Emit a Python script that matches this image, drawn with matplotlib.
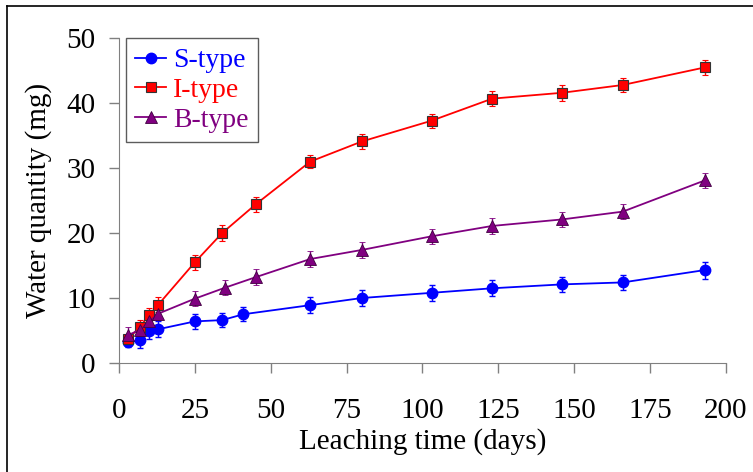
import matplotlib.pyplot as plt
from matplotlib.lines import Line2D

plt.rcParams['font.family'] = ['Liberation Serif', 'DejaVu Serif']

# leaching time (days) and water quantity (mg)
s_days = [3, 7, 10, 13, 25, 34, 41, 63, 80, 103, 123, 146, 166, 193]
s_water = [3.2, 3.5, 4.9, 5.2, 6.4, 6.6, 7.5, 8.9, 10.0, 10.8, 11.5, 12.1, 12.4, 14.3]
s_err = [0.8, 1.2, 1.2, 1.2, 1.2, 1.1, 1.1, 1.2, 1.2, 1.2, 1.2, 1.2, 1.2, 1.3]

i_days = [3, 7, 10, 13, 25, 34, 45, 63, 80, 103, 123, 146, 166, 193]
i_water = [3.7, 5.6, 7.4, 9.0, 15.5, 20.0, 24.4, 31.0, 34.1, 37.3, 40.7, 41.6, 42.8, 45.5]
i_err = [0.6, 1.0, 1.0, 1.1, 1.2, 1.2, 1.2, 1.0, 1.1, 1.1, 1.1, 1.2, 1.1, 1.1]

b_days = [3, 7, 10, 13, 25, 35, 45, 63, 80, 103, 123, 146, 166, 193]
b_water = [4.3, 5.1, 6.4, 7.6, 9.9, 11.6, 13.2, 16.0, 17.4, 19.5, 21.1, 22.1, 23.3, 28.1]
b_err = [1.3, 1.1, 1.0, 1.0, 1.2, 1.2, 1.2, 1.2, 1.2, 1.2, 1.2, 1.2, 1.2, 1.2]

colors = ['#0000ff', '#ff0000', '#800080']

fig = plt.figure(figsize=(7.53, 4.72), dpi=100)
ax = fig.add_axes([0.158, 0.231, 0.806, 0.688])

h1 = ax.errorbar(s_days, s_water, yerr=s_err, color=colors[0], marker='o', ms=7.5,
                 mec='#0000ff', mfc='#0000ff', lw=1.3, capsize=2.5, elinewidth=1.0,
                 zorder=3)
h2 = ax.errorbar(i_days, i_water, yerr=i_err, color=colors[1], marker='s', ms=7.5,
                 mec='#333333', mfc='#ff0000', mew=0.8, lw=1.3, capsize=2.5,
                 elinewidth=1.0, zorder=3)
h3 = ax.errorbar(b_days, b_water, yerr=b_err, color=colors[2], marker='^', ms=8.5,
                 mec='#400040', mfc='#800080', mew=0.6, lw=1.3, capsize=2.5,
                 elinewidth=1.0, zorder=3)

ax.set_xlim(0, 200)
ax.set_ylim(0, 50)
ax.set_xticks(range(0, 201, 25))
ax.set_yticks(range(0, 51, 10))
ax.spines['top'].set_visible(False)
ax.spines['right'].set_visible(False)
for sp in ['left', 'bottom']:
    ax.spines[sp].set_color('#808080')
ax.tick_params(axis='both', direction='out', length=7, width=1.0,
               color='#808080', labelsize=21)
ax.tick_params(axis='x', pad=18)
ax.tick_params(axis='y', pad=10)

ax.set_xlabel('Leaching time (days)', fontsize=21, labelpad=3)
ax.set_ylabel('Water quantity (mg)', fontsize=21, labelpad=10)

leg = ax.legend([h1[0], h2[0], h3[0]], ['S-type', 'I-type', 'B-type'],
                loc='upper left', bbox_to_anchor=(0.011, 1.0), fontsize=20,
                frameon=True, fancybox=False, edgecolor='#333333',
                borderaxespad=0.0, handlelength=1.1, labelspacing=0.15,
                handletextpad=0.25, borderpad=0.35)
leg.get_frame().set_linewidth(1.0)
for txt, c in zip(leg.get_texts(), colors):
    txt.set_color(c)

# outer frame (left and top edges of the original picture box)
fig.add_artist(Line2D([0.009, 0.009], [0.0, 0.987], transform=fig.transFigure,
                      color='black', lw=1.2))
fig.add_artist(Line2D([0.009, 1.0], [0.987, 0.987], transform=fig.transFigure,
                      color='black', lw=1.2))

plt.savefig('out.png', dpi=100)
